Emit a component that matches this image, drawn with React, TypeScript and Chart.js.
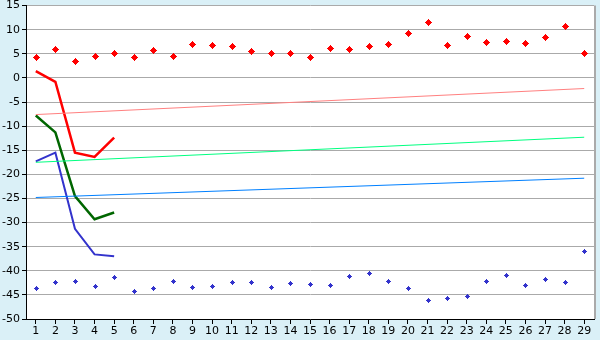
import React, { useEffect, useRef } from "react";
import { Chart, registerables } from "chart.js";

Chart.register(...registerables);

const categories = ["1","2","3","4","5","6","7","8","9","10","11","12","13","14","15","16","17","18","19","20","21","22","23","24","25","26","27","28","29"];

const redPoints = [4.4, 6.0, 3.5, 4.6, 5.2, 4.4, 5.8, 4.6, 7.1, 6.9, 6.7, 5.6, 5.2, 5.2, 4.4, 6.2, 6.0, 6.7, 7.1, 9.4, 11.5, 6.9, 8.7, 7.5, 7.7, 7.3, 8.5, 10.8, 5.2];
const bluePoints = [-43.6, -42.3, -42.1, -43.1, -41.3, -44.2, -43.6, -42.1, -43.3, -43.1, -42.3, -42.3, -43.3, -42.5, -42.7, -42.9, -41.0, -40.4, -42.1, -43.5, -46.0, -45.6, -45.2, -42.1, -40.8, -42.9, -41.7, -42.3, -35.8];

const redLine = [1.4, -0.8, -15.5, -16.4, -12.4];
const greenLine = [-7.8, -11.3, -24.5, -29.3, -27.9];
const blueLine = [-17.3, -15.5, -31.3, -36.6, -37.0];

const redTrend = [-7.6, -2.2];
const greenTrend = [-17.5, -12.3];
const blueTrend = [-24.8, -20.8];

const yTicks = [15, 10, 5, 0, -5, -10, -15, -20, -25, -30, -35, -40, -45, -50];

function trendData(ends: number[]) {
  return categories.map((_, i) => (i === 0 ? ends[0] : i === categories.length - 1 ? ends[1] : null));
}

const bgPlugin = {
  id: "bgPlugin",
  beforeDraw(chart: any) {
    const { ctx, chartArea } = chart;
    ctx.save();
    ctx.fillStyle = "#daf0f7";
    ctx.fillRect(0, 0, chart.width, chart.height);
    ctx.fillStyle = "#ffffff";
    ctx.fillRect(chartArea.left, chartArea.top, chartArea.right - chartArea.left, chartArea.bottom - chartArea.top);
    ctx.restore();
  },
  afterDatasetsDraw(chart: any) {
    const { ctx } = chart;
    ctx.save();
    chart.data.datasets.forEach((ds: any, i: number) => {
      if (!ds.marker) return;
      const meta = chart.getDatasetMeta(i);
      ctx.fillStyle = ds.markerColor;
      meta.data.forEach((el: any) => {
        const x = Math.round(el.x);
        const y = Math.round(el.y);
        if (ds.marker === "bold") {
          ctx.fillRect(x - 1, y - 2, 3, 5);
          ctx.fillRect(x - 2, y - 1, 5, 3);
          ctx.fillRect(x, y - 3, 1, 7);
          ctx.fillRect(x - 3, y, 7, 1);
        } else {
          ctx.fillRect(x, y - 2, 1, 5);
          ctx.fillRect(x - 2, y, 5, 1);
          ctx.fillRect(x - 1, y - 1, 3, 3);
        }
      });
    });
    ctx.restore();
  },
  afterDraw(chart: any) {
    const { ctx, chartArea } = chart;
    ctx.save();
    ctx.strokeStyle = "#aaaaaa";
    ctx.lineWidth = 2;
    ctx.beginPath();
    ctx.moveTo(chartArea.right + 1, chartArea.top);
    ctx.lineTo(chartArea.right + 1, chartArea.bottom);
    ctx.stroke();
    ctx.restore();
  },
};

export default function App() {
  const ref = useRef<HTMLCanvasElement>(null);
  useEffect(() => {
    document.body.style.margin = "0";
    const chart = new Chart(ref.current!, {
      type: "line",
      data: {
        labels: categories,
        datasets: [
          { data: trendData(redTrend), borderColor: "#ff8080", borderWidth: 1, pointRadius: 0, spanGaps: true },
          { data: trendData(greenTrend), borderColor: "#00ff80", borderWidth: 1, pointRadius: 0, spanGaps: true },
          { data: trendData(blueTrend), borderColor: "#0080ff", borderWidth: 1, pointRadius: 0, spanGaps: true },
          { data: redLine, borderColor: "#ff0000", borderWidth: 2.5, pointRadius: 0, tension: 0 },
          { data: greenLine, borderColor: "#006600", borderWidth: 2.5, pointRadius: 0, tension: 0 },
          { data: blueLine, borderColor: "#3333cc", borderWidth: 2, pointRadius: 0, tension: 0 },
          { data: redPoints, showLine: false, pointRadius: 0, marker: "bold", markerColor: "#ff0000" } as any,
          { data: bluePoints, showLine: false, pointRadius: 0, marker: "thin", markerColor: "#3333cc" } as any,
        ],
      },
      options: {
        animation: false,
        responsive: false,
        events: [],
        layout: { padding: { top: 0, right: 6, left: 0, bottom: 0 } },
        plugins: { legend: { display: false }, tooltip: { enabled: false } },
        scales: {
          x: {
            offset: true,
            grid: { offset: false, drawOnChartArea: false, drawTicks: true, tickLength: 5, tickColor: "#000000" },
            border: { color: "#000000", width: 1 },
            ticks: { color: "#000000", font: { family: "DejaVu Sans", size: 11 }, padding: 1, maxRotation: 0, autoSkip: false },
            afterFit(scale: any) { scale.height = 21; },
          },
          y: {
            min: -50,
            max: 15,
            afterBuildTicks(scale: any) { scale.ticks = yTicks.map((v) => ({ value: v })); },
            grid: { color: "#aaaaaa", tickLength: 4, tickColor: "#000000" },
            border: { color: "#000000", width: 1 },
            ticks: { color: "#000000", font: { family: "DejaVu Sans", size: 11 }, padding: 2 },
            afterFit(scale: any) { scale.width = 26; },
          },
        },
      },
      plugins: [bgPlugin],
    });
    return () => chart.destroy();
  }, []);
  return (
    <div style={{ position: "absolute", left: 0, top: 0, width: 600, height: 340, overflow: "hidden", background: "#daf0f7" }}>
      <canvas ref={ref} width={600} height={343} style={{ position: "absolute", left: 0, top: -3, width: 600, height: 343, display: "block" }} />
    </div>
  );
}
